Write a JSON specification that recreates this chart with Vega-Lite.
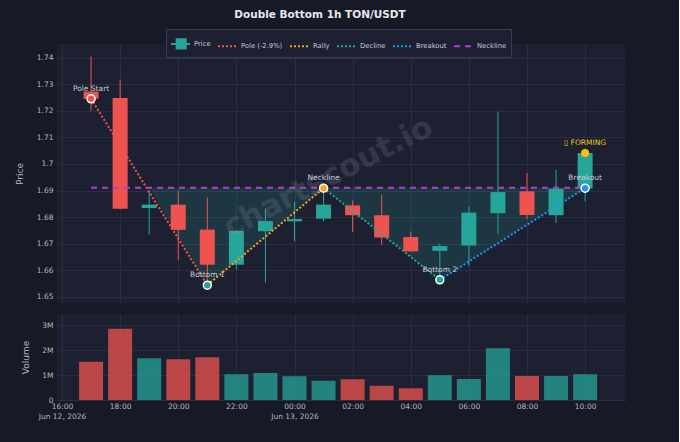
{
  "$schema": "https://vega.github.io/schema/vega-lite/v6.json",
  "description": "Double Bottom 1h TON/USDT with candles, pattern lines and volume",
  "background": "#161a26",
  "padding": {"left": 15, "top": 10, "right": 54, "bottom": 22},
  "title": {
    "text": "Double Bottom 1h TON/USDT",
    "anchor": "middle",
    "fontSize": 10.5,
    "fontWeight": "bold",
    "color": "#e6e8ee",
    "offset": 8
  },
  "datasets": {
    "candles": [
      {"t": "2026-06-12T17:00:00Z", "open": 1.7272, "high": 1.7404, "low": 1.7200, "close": 1.7245, "volume": 1530000},
      {"t": "2026-06-12T18:00:00Z", "open": 1.7248, "high": 1.7316, "low": 1.6830, "close": 1.6831, "volume": 2850000},
      {"t": "2026-06-12T19:00:00Z", "open": 1.6834, "high": 1.6897, "low": 1.6734, "close": 1.6847, "volume": 1670000},
      {"t": "2026-06-12T20:00:00Z", "open": 1.6847, "high": 1.6899, "low": 1.6640, "close": 1.6752, "volume": 1630000},
      {"t": "2026-06-12T21:00:00Z", "open": 1.6753, "high": 1.6874, "low": 1.6544, "close": 1.6621, "volume": 1710000},
      {"t": "2026-06-12T22:00:00Z", "open": 1.6621, "high": 1.6750, "low": 1.6603, "close": 1.6748, "volume": 1030000},
      {"t": "2026-06-12T23:00:00Z", "open": 1.6747, "high": 1.6832, "low": 1.6553, "close": 1.6785, "volume": 1080000},
      {"t": "2026-06-13T00:00:00Z", "open": 1.6784, "high": 1.6857, "low": 1.6709, "close": 1.6793, "volume": 950000},
      {"t": "2026-06-13T01:00:00Z", "open": 1.6794, "high": 1.6915, "low": 1.6784, "close": 1.6847, "volume": 770000},
      {"t": "2026-06-13T02:00:00Z", "open": 1.6844, "high": 1.6862, "low": 1.6744, "close": 1.6807, "volume": 830000},
      {"t": "2026-06-13T03:00:00Z", "open": 1.6807, "high": 1.6884, "low": 1.6696, "close": 1.6723, "volume": 570000},
      {"t": "2026-06-13T04:00:00Z", "open": 1.6725, "high": 1.6746, "low": 1.6671, "close": 1.6671, "volume": 470000},
      {"t": "2026-06-13T05:00:00Z", "open": 1.6673, "high": 1.6701, "low": 1.6564, "close": 1.6691, "volume": 990000},
      {"t": "2026-06-13T06:00:00Z", "open": 1.6693, "high": 1.6840, "low": 1.6615, "close": 1.6817, "volume": 840000},
      {"t": "2026-06-13T07:00:00Z", "open": 1.6815, "high": 1.7196, "low": 1.6737, "close": 1.6894, "volume": 2070000},
      {"t": "2026-06-13T08:00:00Z", "open": 1.6897, "high": 1.6966, "low": 1.6793, "close": 1.6808, "volume": 960000},
      {"t": "2026-06-13T09:00:00Z", "open": 1.6807, "high": 1.6977, "low": 1.6778, "close": 1.6907, "volume": 960000},
      {"t": "2026-06-13T10:00:00Z", "open": 1.6908, "high": 1.7041, "low": 1.6859, "close": 1.7041, "volume": 1030000}
    ],
    "pattern": [
      {"series": "Pole (-2.9%)", "t": "2026-06-12T17:00:00Z", "price": 1.7245},
      {"series": "Pole (-2.9%)", "t": "2026-06-12T21:00:00Z", "price": 1.6544},
      {"series": "Rally", "t": "2026-06-12T21:00:00Z", "price": 1.6544},
      {"series": "Rally", "t": "2026-06-13T01:00:00Z", "price": 1.6909},
      {"series": "Decline", "t": "2026-06-13T01:00:00Z", "price": 1.6909},
      {"series": "Decline", "t": "2026-06-13T05:00:00Z", "price": 1.6564},
      {"series": "Breakout", "t": "2026-06-13T05:00:00Z", "price": 1.6564},
      {"series": "Breakout", "t": "2026-06-13T10:00:00Z", "price": 1.6909},
      {"series": "Neckline", "t": "2026-06-12T17:00:00Z", "price": 1.691},
      {"series": "Neckline", "t": "2026-06-13T10:00:00Z", "price": 1.691}
    ],
    "fill": [
      {"t": "2026-06-12T19:00:00Z", "price": 1.691},
      {"t": "2026-06-12T21:00:00Z", "price": 1.6544},
      {"t": "2026-06-13T01:00:00Z", "price": 1.6909},
      {"t": "2026-06-13T05:00:00Z", "price": 1.6564},
      {"t": "2026-06-13T10:00:00Z", "price": 1.6909}
    ],
    "markers": [
      {"name": "Pole Start", "t": "2026-06-12T17:00:00Z", "price": 1.7245},
      {"name": "Bottom 1", "t": "2026-06-12T21:00:00Z", "price": 1.6544},
      {"name": "Neckline", "t": "2026-06-13T01:00:00Z", "price": 1.6909},
      {"name": "Bottom 2", "t": "2026-06-13T05:00:00Z", "price": 1.6564},
      {"name": "Breakout", "t": "2026-06-13T10:00:00Z", "price": 1.6909}
    ],
    "forming": [
      {"label": "▯ FORMING", "t": "2026-06-13T10:00:00Z", "price": 1.7041}
    ],
    "watermark": [
      {"label": "chartscout.io", "t": "2026-06-13T01:10:00Z", "price": 1.6948}
    ]
  },
  "spacing": 11,
  "vconcat": [
    {
      "width": 568,
      "height": 259,
      "layer": [
        {
          "data": {"name": "fill"},
          "mark": {"type": "area", "color": "#26a69a", "opacity": 0.17},
          "encoding": {
            "x": {
              "field": "t", "type": "temporal",
              "scale": {"type": "utc", "domain": [
                {"year": 2026, "month": 6, "date": 12, "hours": 16, "utc": true},
                {"year": 2026, "month": 6, "date": 13, "hours": 11, "minutes": 12, "utc": true}
              ]},
              "axis": {
                "labels": false, "ticks": false, "domain": false, "title": null,
                "grid": true, "minExtent": 0, "maxExtent": 0, "tickCount": 30,
                "values": [
                  {"year": 2026, "month": 6, "date": 12, "hours": 16, "utc": true},
                  {"year": 2026, "month": 6, "date": 12, "hours": 18, "utc": true},
                  {"year": 2026, "month": 6, "date": 12, "hours": 20, "utc": true},
                  {"year": 2026, "month": 6, "date": 12, "hours": 22, "utc": true},
                  {"year": 2026, "month": 6, "date": 13, "hours": 0, "utc": true},
                  {"year": 2026, "month": 6, "date": 13, "hours": 2, "utc": true},
                  {"year": 2026, "month": 6, "date": 13, "hours": 4, "utc": true},
                  {"year": 2026, "month": 6, "date": 13, "hours": 6, "utc": true},
                  {"year": 2026, "month": 6, "date": 13, "hours": 8, "utc": true},
                  {"year": 2026, "month": 6, "date": 13, "hours": 10, "utc": true}
                ]
              }
            },
            "y": {
              "field": "price", "type": "quantitative",
              "scale": {"domain": [1.6477, 1.7451], "zero": false, "nice": false},
              "axis": {
                "title": "Price",
                "values": [1.65, 1.66, 1.67, 1.68, 1.69, 1.7, 1.71, 1.72, 1.73, 1.74],
                "tickCount": 30,
                "format": ".2~f",
                "labelOverlap": false,
                "labelPadding": 4,
                "minExtent": 20, "maxExtent": 20,
                "titlePadding": 13
              }
            },
            "y2": {"datum": 1.691}
          }
        },
        {
          "data": {"name": "candles"},
          "mark": {"type": "rule", "strokeWidth": 1},
          "encoding": {
            "x": {"field": "t", "type": "temporal"},
            "y": {"field": "low", "type": "quantitative"},
            "y2": {"field": "high"},
            "color": {"condition": {"test": "datum.close < datum.open", "value": "#ef5350"}, "value": "#26a69a"}
          }
        },
        {
          "data": {"name": "candles"},
          "mark": {"type": "bar", "size": 15},
          "encoding": {
            "x": {"field": "t", "type": "temporal"},
            "y": {"field": "open", "type": "quantitative"},
            "y2": {"field": "close"},
            "color": {"condition": {"test": "datum.close < datum.open", "value": "#ef5350"}, "value": "#26a69a"}
          }
        },
        {
          "data": {"name": "watermark"},
          "mark": {"type": "text", "fontSize": 31, "fontWeight": "bold", "angle": -27, "color": "#8f95a6", "opacity": 0.2, "align": "center", "baseline": "middle"},
          "encoding": {
            "x": {"field": "t", "type": "temporal"},
            "y": {"field": "price", "type": "quantitative"},
            "text": {"field": "label"}
          }
        },
        {
          "data": {"name": "pattern"},
          "mark": {"type": "line", "strokeWidth": 2},
          "encoding": {
            "x": {"field": "t", "type": "temporal"},
            "y": {"field": "price", "type": "quantitative"},
            "color": {
              "field": "series", "type": "nominal",
              "scale": {
                "domain": ["Price", "Pole (-2.9%)", "Rally", "Decline", "Breakout", "Neckline"],
                "range": ["#26a69a", "#ef5350", "#ff9f1a", "#26a69a", "#2196f3", "#b040d0"]
              },
              "legend": {
                "title": null,
                "orient": "none",
                "legendX": 109,
                "legendY": -15,
                "direction": "horizontal",
                "encode": {
                  "symbols": {
                    "update": {
                      "shape": {"signal": "datum.value === 'Price' ? 'M-1,0H-0.4M0.55,0H1M-0.4,-0.5H0.55V0.5H-0.4Z' : 'stroke'"},
                      "fill": {"signal": "datum.value === 'Price' ? '#26a69a' : 'transparent'"}
                    }
                  }
                }
              }
            },
            "strokeDash": {
              "field": "series", "type": "nominal",
              "scale": {
                "domain": ["Price", "Pole (-2.9%)", "Rally", "Decline", "Breakout", "Neckline"],
                "range": [[1, 0], [2, 2], [2, 2], [2, 2], [2, 2], [6, 5]]
              },
              "legend": {
                "title": null,
                "orient": "none",
                "legendX": 109,
                "legendY": -15,
                "direction": "horizontal"
              }
            },
            "order": {"field": "t", "type": "temporal"}
          }
        },
        {
          "data": {"name": "markers"},
          "mark": {"type": "point", "filled": true, "size": 64, "stroke": "#ffffff", "strokeWidth": 1.5, "opacity": 1},
          "encoding": {
            "x": {"field": "t", "type": "temporal"},
            "y": {"field": "price", "type": "quantitative"},
            "fill": {
              "field": "name", "type": "nominal",
              "scale": {
                "domain": ["Pole Start", "Bottom 1", "Neckline", "Bottom 2", "Breakout"],
                "range": ["#ef5350", "#26a69a", "#ff9f1a", "#26a69a", "#2196f3"]
              },
              "legend": null
            }
          }
        },
        {
          "data": {"name": "markers"},
          "mark": {"type": "text", "fontSize": 7.5, "color": "#c9ccd3", "dy": -8, "baseline": "alphabetic"},
          "encoding": {
            "x": {"field": "t", "type": "temporal"},
            "y": {"field": "price", "type": "quantitative"},
            "text": {"field": "name"}
          }
        },
        {
          "data": {"name": "forming"},
          "mark": {"type": "point", "filled": true, "size": 64, "color": "#ffc107", "opacity": 1},
          "encoding": {
            "x": {"field": "t", "type": "temporal"},
            "y": {"field": "price", "type": "quantitative"}
          }
        },
        {
          "data": {"name": "forming"},
          "mark": {"type": "text", "fontSize": 7.5, "color": "#f0c419", "dy": -8, "baseline": "alphabetic"},
          "encoding": {
            "x": {"field": "t", "type": "temporal"},
            "y": {"field": "price", "type": "quantitative"},
            "text": {"field": "label"}
          }
        }
      ]
    },
    {
      "width": 568,
      "height": 86,
      "data": {"name": "candles"},
      "mark": {"type": "bar", "size": 24, "opacity": 0.75},
      "encoding": {
        "x": {
          "field": "t", "type": "temporal",
          "scale": {"type": "utc", "domain": [
            {"year": 2026, "month": 6, "date": 12, "hours": 16, "utc": true},
            {"year": 2026, "month": 6, "date": 13, "hours": 11, "minutes": 12, "utc": true}
          ]},
          "axis": {
            "title": null, "grid": true, "labelPadding": 2, "labelLineHeight": 10,
            "labelFlush": false, "labelOverlap": false, "tickCount": 30,
            "values": [
              {"year": 2026, "month": 6, "date": 12, "hours": 16, "utc": true},
              {"year": 2026, "month": 6, "date": 12, "hours": 18, "utc": true},
              {"year": 2026, "month": 6, "date": 12, "hours": 20, "utc": true},
              {"year": 2026, "month": 6, "date": 12, "hours": 22, "utc": true},
              {"year": 2026, "month": 6, "date": 13, "hours": 0, "utc": true},
              {"year": 2026, "month": 6, "date": 13, "hours": 2, "utc": true},
              {"year": 2026, "month": 6, "date": 13, "hours": 4, "utc": true},
              {"year": 2026, "month": 6, "date": 13, "hours": 6, "utc": true},
              {"year": 2026, "month": 6, "date": 13, "hours": 8, "utc": true},
              {"year": 2026, "month": 6, "date": 13, "hours": 10, "utc": true}
            ],
            "labelExpr": "utchours(datum.value) == 0 || utchours(datum.value) == 16 ? [utcFormat(datum.value, '%H:%M'), utcFormat(datum.value, '%b %d, %Y')] : utcFormat(datum.value, '%H:%M')"
          }
        },
        "y": {
          "field": "volume", "type": "quantitative",
          "scale": {"domain": [0, 3440000], "nice": false},
          "axis": {
            "title": "Volume",
            "values": [0, 1000000, 2000000, 3000000],
            "tickCount": 30,
            "labelExpr": "datum.value == 0 ? '0' : format(datum.value / 1000000, 'd') + 'M'",
            "labelOverlap": false,
            "labelPadding": 4,
            "minExtent": 20, "maxExtent": 20,
            "titlePadding": 7
          }
        },
        "color": {"condition": {"test": "datum.close < datum.open", "value": "#ef5350"}, "value": "#26a69a"}
      }
    }
  ],
  "config": {
    "font": "DejaVu Sans",
    "view": {"fill": "#1c2030", "stroke": null},
    "axis": {
      "gridColor": "#2a2f3f",
      "gridWidth": 1,
      "domain": false,
      "ticks": false,
      "labelColor": "#b4b8c2",
      "labelFontSize": 7.5,
      "titleColor": "#b4b8c2",
      "titleFontSize": 9,
      "titleFontWeight": "normal"
    },
    "legend": {
      "fillColor": "#1c2030",
      "strokeColor": "#3a3f50",
      "padding": 4,
      "labelFontSize": 6.8,
      "labelColor": "#c9ccd3",
      "symbolType": "stroke",
      "symbolSize": 360,
      "symbolStrokeWidth": 2,
      "columnPadding": 3,
      "labelOffset": 3
    }
  }
}
